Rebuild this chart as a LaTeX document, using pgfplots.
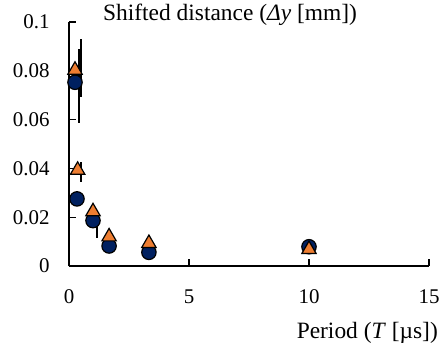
\documentclass[border=0pt]{standalone}
\usepackage{pgfplots}
\pgfplotsset{compat=1.18}
\usepackage{fontspec}
\setmainfont{Liberation Serif}
\definecolor{navy}{RGB}{0,32,96}
\definecolor{orng}{RGB}{237,125,49}
\begin{document}
\begin{tikzpicture}
\path[use as bounding box] (0,0) rectangle (440bp,348bp);
\begin{axis}[
  at={(69bp,82bp)}, anchor=south west,
  scale only axis, width=360bp, height=244bp,
  xmin=0, xmax=15, ymin=0, ymax=0.1,
  axis x line=bottom, axis y line=left,
  axis line style={-, line width=1.3bp, black},
  xtick={0,5,10,15}, xticklabels={0,5,10,15},
  ytick={0,0.02,0.04,0.06,0.08,0.1},
  yticklabels={0,0.02,0.04,0.06,0.08,0.1},
  tick align=inside, major tick length=7bp,
  tick style={line width=1.3bp, black},
  ticklabel style={font=\fontsize{21}{25}\selectfont},
  xticklabel style={yshift=-20bp},
  yticklabel style={xshift=-16bp},
  clip=false,
]
\addplot[only marks, mark=*, mark size=7.2bp, mark options={fill=navy, draw=black, line width=1.2bp}]
  coordinates {(0.25,0.0753) (0.333,0.0275) (1.0,0.0186) (1.67,0.0082) (3.33,0.0056) (10,0.0079)};
\addplot[only marks, mark=triangle*, mark size=8.3bp, mark options={fill=orng, draw=black, line width=1.2bp}]
  coordinates {(0.25,0.0803) (0.36,0.0393) (1.0,0.0223) (1.67,0.0120) (3.33,0.0093) (10,0.0068)};
% error bars (drawn offset as in the reference)
\addplot[draw=none, mark=none, error bars/.cd, y dir=both, y explicit, error bar style={line width=2bp, black, solid}, error mark=none]
  coordinates {(0.40,0.07375) +- (0,0.01515) (0.50,0.08115) +- (0,0.01175) (0.50,0.0387) +- (0,0.0041) (1.15,0.01575) +- (0,0.00445)};
\end{axis}
\node[anchor=west, inner sep=0pt, font=\fontsize{23.5}{28}\selectfont] at (103bp,333bp) {Shifted distance (\textit{Δy} [mm])};
\node[anchor=east, inner sep=0pt, font=\fontsize{23.5}{28}\selectfont] at (438bp,15bp) {Period (\textit{T} [µs])};
\end{tikzpicture}
\end{document}
